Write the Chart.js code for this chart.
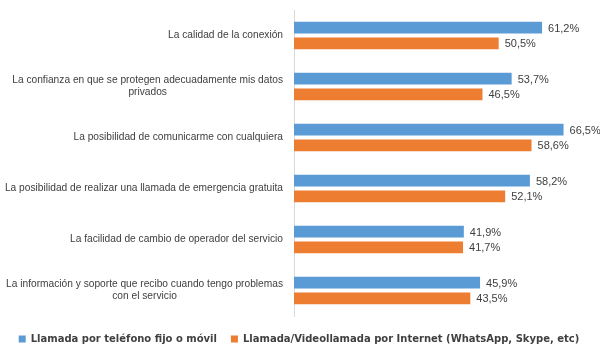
<!DOCTYPE html>
<html>
<head>
<meta charset="utf-8">
<script src="https://cdn.jsdelivr.net/npm/chart.js@4/dist/chart.umd.min.js"></script>
<style>
html,body{margin:0;padding:0;background:#fff;}
#wrap{width:600px;height:355px;position:relative;}
</style>
</head>
<body>
<div id="wrap"><canvas id="c"></canvas></div>
<script>
const categories = [
  ["La calidad de la conexión"],
  ["La confianza en que se protegen adecuadamente mis datos", "privados"],
  ["La posibilidad de comunicarme con cualquiera"],
  ["La posibilidad de realizar una llamada de emergencia gratuita"],
  ["La facilidad de cambio de operador del servicio"],
  ["La información y soporte que recibo cuando tengo problemas", "con el servicio"]
];
const seriesNames = ["Llamada por teléfono fijo o móvil", "Llamada/Videollamada por Internet (WhatsApp, Skype, etc)"];
const fijoMovil = [61.2, 53.7, 66.5, 58.2, 41.9, 45.9];
const internet = [50.5, 46.5, 58.6, 52.1, 41.7, 43.5];

const FONT = "'Liberation Sans', Arial, sans-serif";
const TEXT = '#404040';

const catLabelPlugin = {
  id: 'catLabels',
  afterDraw(chart) {
    const ctx = chart.ctx;
    const y = chart.scales.y;
    ctx.save();
    ctx.font = '10.2px ' + FONT;
    ctx.fillStyle = TEXT;
    ctx.textBaseline = 'middle';
    ctx.textAlign = 'center';
    const rightEdge = chart.chartArea.left - 11;
    const lh = 12;
    categories.forEach((lines, i) => {
      const cy = y.getPixelForValue(i);
      const widest = Math.max(...lines.map(l => ctx.measureText(l).width));
      const cx = rightEdge - widest / 2;
      const top = cy - (lines.length - 1) * lh / 2;
      lines.forEach((l, k) => ctx.fillText(l, cx, top + k * lh));
    });
    ctx.restore();
  }
};

const valueLabelPlugin = {
  id: 'valueLabels',
  afterDatasetsDraw(chart) {
    const ctx = chart.ctx;
    ctx.save();
    ctx.font = '11px ' + FONT;
    ctx.fillStyle = TEXT;
    ctx.textBaseline = 'middle';
    ctx.textAlign = 'left';
    chart.data.datasets.forEach((ds, di) => {
      const meta = chart.getDatasetMeta(di);
      meta.data.forEach((bar, i) => {
        const v = ds.data[i];
        ctx.fillText(v.toFixed(1).replace('.', ',') + '%', bar.x + 6, bar.y + 1);
      });
    });
    ctx.restore();
  }
};

new Chart(document.getElementById('c'), {
  type: 'bar',
  data: {
    labels: categories,
    datasets: [
      { label: seriesNames[0], data: fijoMovil, backgroundColor: '#5B9BD5', borderWidth: 0,
        categoryPercentage: 0.62, barPercentage: 0.74 },
      { label: seriesNames[1], data: internet, backgroundColor: '#ED7D31', borderWidth: 0,
        categoryPercentage: 0.62, barPercentage: 0.74 }
    ]
  },
  options: {
    indexAxis: 'y',
    responsive: true,
    maintainAspectRatio: false,
    animation: false,
    layout: { padding: { left: 0, right: 2, top: 10, bottom: 1 } },
    scales: {
      x: {
        display: true, min: 0, max: 75,
        ticks: { display: false },
        grid: { display: false, drawTicks: false },
        border: { display: false },
        afterFit(scale) { scale.height = 4; }
      },
      y: {
        ticks: { display: false },
        grid: { display: false, drawTicks: false },
        border: { display: true, color: '#d9d9d9', width: 1 },
        afterFit(scale) { scale.width = 294; }
      }
    },
    plugins: {
      legend: {
        position: 'bottom',
        labels: {
          boxWidth: 7, boxHeight: 7, padding: 14,
          color: TEXT,
          font: { family: "'DejaVu Sans', Verdana, sans-serif", size: 10, weight: 'bold' }
        }
      },
      tooltip: { enabled: false }
    }
  },
  plugins: [catLabelPlugin, valueLabelPlugin]
});
</script>
</body>
</html>
